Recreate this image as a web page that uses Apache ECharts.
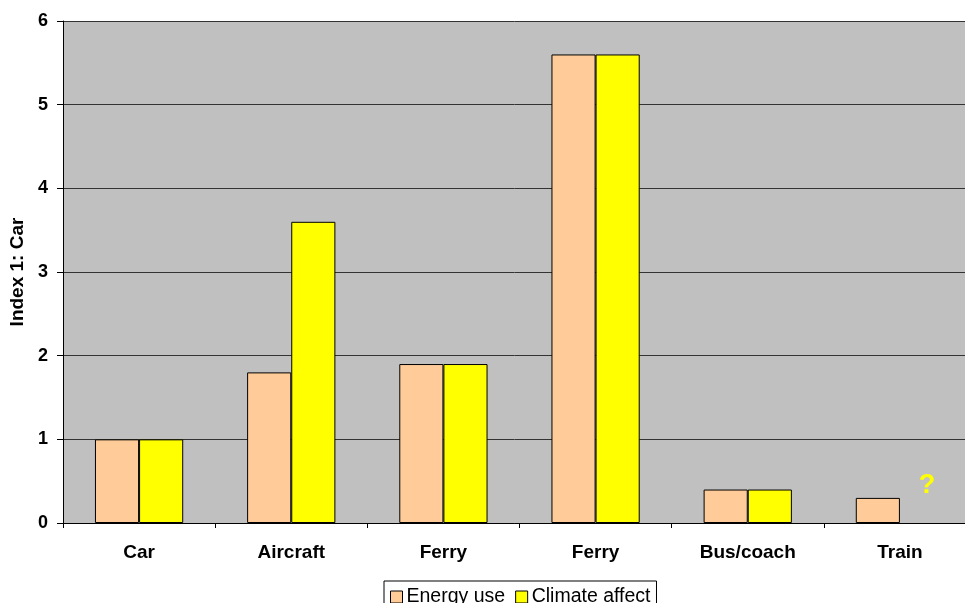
<!DOCTYPE html>
<html><head><meta charset="utf-8">
<script src="https://cdn.jsdelivr.net/npm/echarts@6/dist/echarts.min.js"></script>
<style>html,body{margin:0;padding:0;background:#fff}#c{width:965px;height:603px}</style>
</head><body><div id="c"></div>
<script>
const categories = ['Car', 'Aircraft', 'Ferry', 'Ferry', 'Bus/coach', 'Train'];
const energyUse = [1, 1.8, 1.9, 5.6, 0.4, 0.3];
const climateAffect = [1, 3.6, 1.9, 5.6, 0.4, null];
const yTicks = { min: 0, max: 6, interval: 1 };
const unknownMark = { category: 'Train', value: 0.4, text: '?' };

const chart = echarts.init(document.getElementById('c'));
const font = '"Liberation Sans", Arial, sans-serif';
chart.setOption({
  animation: false,
  textStyle: { fontFamily: font },
  grid: { left: 63, top: 21, height: 502, width: 913, containLabel: false, outerBoundsMode: 'none',
          show: true, backgroundColor: '#C0C0C0', borderWidth: 0 },
  legend: {
    data: ['Energy use', 'Climate affect'],
    top: 581, left: 384,
    icon: 'rect', itemWidth: 12, itemHeight: 12, itemGap: 10,
    borderColor: '#000', borderWidth: 1, padding: [6, 6, 6, 6],
    textStyle: { fontSize: 19.5, color: '#000', fontFamily: font, padding: [0, 0, 0, -1] },
    itemStyle: { borderColor: '#000', borderWidth: 1 }
  },
  xAxis: {
    type: 'category', data: categories,
    axisLine: { show: true, lineStyle: { color: '#000', width: 1 } },
    axisTick: { show: true, length: 5, lineStyle: { color: '#000' }, alignWithLabel: false },
    axisLabel: { color: '#000', fontSize: 19, fontWeight: 'bold', margin: 20, interval: 0 }
  },
  yAxis: {
    type: 'value', min: yTicks.min, max: yTicks.max, interval: yTicks.interval,
    name: 'Index 1: Car', nameLocation: 'middle', nameGap: 36, nameRotate: 90,
    nameTextStyle: { fontSize: 19, fontWeight: 'bold', color: '#000' },
    axisLine: { show: true, lineStyle: { color: '#000', width: 1 } },
    axisTick: { show: true, length: 6, lineStyle: { color: '#000' } },
    axisLabel: { color: '#000', fontSize: 18, fontWeight: 'bold', margin: 15 },
    splitLine: { show: true, lineStyle: { color: '#333', width: 1 } }
  },
  series: [
    { name: 'Energy use', type: 'bar', data: energyUse, barGap: '0%', barCategoryGap: '42%',
      itemStyle: { color: '#FFCC99', borderColor: '#000', borderWidth: 1 } },
    { name: 'Climate affect', type: 'bar', data: climateAffect, barGap: '0%', barCategoryGap: '42%',
      itemStyle: { color: '#FFFF00', borderColor: '#000', borderWidth: 1 },
      markPoint: {
        symbol: 'circle', symbolSize: 0,
        data: [{ coord: [unknownMark.category, unknownMark.value], value: unknownMark.text }],
        label: { show: true, formatter: unknownMark.text, color: '#FFFF00', fontSize: 27, fontWeight: 'bold', offset: [5, -4] }
      } }
  ]
});
</script></body></html>
